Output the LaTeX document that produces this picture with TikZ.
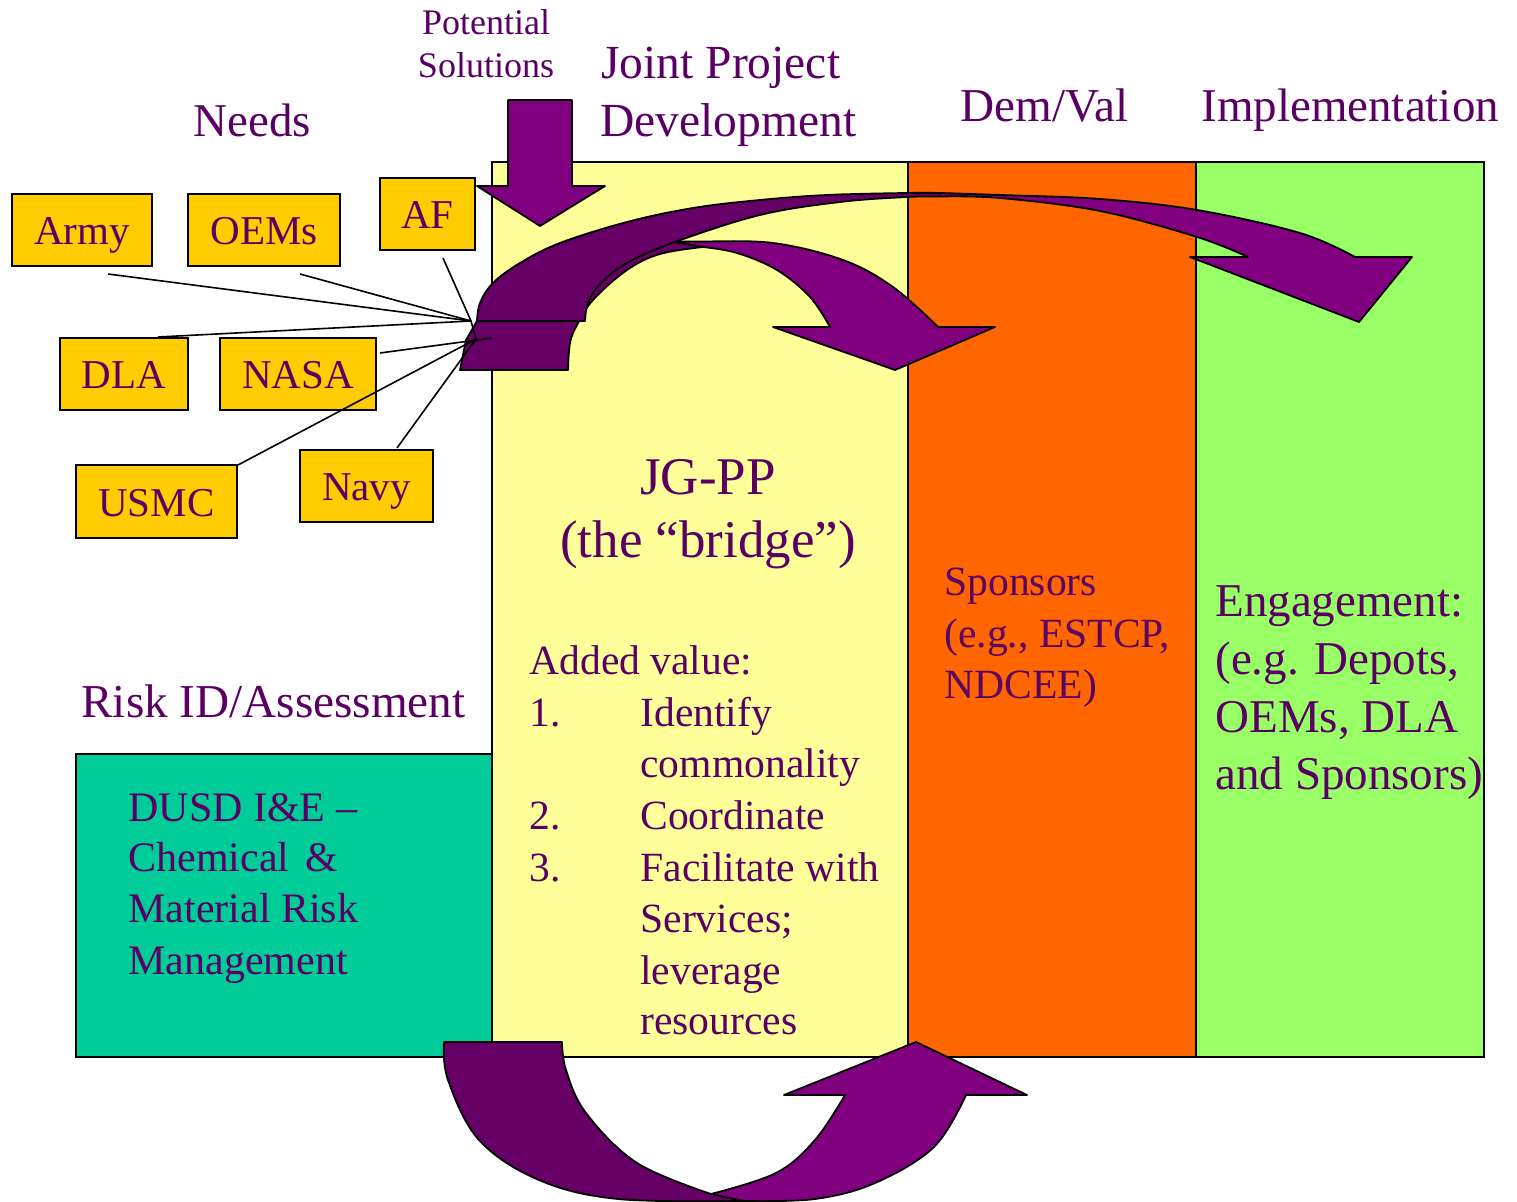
\documentclass[tikz,border=0pt]{standalone}
\usepackage{fontspec}
\setmainfont{Liberation Serif}
\definecolor{txt}{RGB}{90,0,100}
\definecolor{gold}{HTML}{FFCC00}
\definecolor{pyellow}{HTML}{FFFF99}
\definecolor{porange}{HTML}{FF6600}
\definecolor{pgreen}{HTML}{99FF66}
\definecolor{pteal}{HTML}{00CC99}
\definecolor{dkpurple}{HTML}{660066}
\definecolor{ltpurple}{HTML}{800080}
\newcommand{\myfs}[1]{\fontsize{#1pt}{#1pt}\selectfont}
\tikzset{
  panel/.style={draw=black, line width=1.2pt},
  govbox/.style={draw=black, line width=1pt, fill=gold, text=txt, font=\myfs{20.5},
    text height=15pt, text depth=0pt, inner sep=0pt},
  conn/.style={draw=black, line width=0.8pt},
  arrowdark/.style={fill=dkpurple, draw=black, line width=0.9pt, line join=round},
  arrowlight/.style={fill=ltpurple, draw=black, line width=0.9pt, line join=round},
  lbl/.style={anchor=base west, inner sep=0pt, text=txt},
}
\begin{document}
\begin{tikzpicture}[x=0.5pt,y=-0.5pt]
\useasboundingbox (0,0) rectangle (1517,1202);
% panels
\filldraw[panel, fill=pyellow] (492,162) rectangle (908,1057);
\filldraw[panel, fill=porange] (908,162) rectangle (1196,1057);
\filldraw[panel, fill=pgreen] (1196,162) rectangle (1484,1057);
\filldraw[panel, fill=pteal] (76,754) rectangle (492,1057);

% down arrow (potential solutions)
\draw[arrowlight] (508,100) -- (572,100) -- (572,186) -- (605,186) -- (540,226) -- (477,186) -- (508,186) -- cycle;

% curved arrow 1 (to Dem/Val)
\draw[arrowdark] (460,370) -- (466,340) -- (477,321) .. controls (540,290) and (600,250) .. (675,242) -- (703,247)
  -- plot[smooth,tension=0.6] coordinates {(703,247) (660,254) (627,270) (593,300) (577,325) (570,343) (568,370)} -- cycle;
\draw[arrowlight] plot[smooth,tension=0.6] coordinates {(675,242) (700,241.5) (773,243) (843,260) (893,287) (938,327)}
  -- (995,327) -- (895,370) -- (773,327) -- (830,327)
  -- plot[smooth,tension=0.6] coordinates {(830,327) (810,297) (777,270) (737,253) (703,247)} -- cycle;

% curved arrow 2 (to Implementation)
\draw[arrowdark] plot[smooth,tension=0.6] coordinates {(477,321) (480,303) (493,283) (520,263) (560,243) (627,222) (693,208) (760,200) (827,195) (907,193) (940,193)}
  -- (940,196.5)
  -- plot[smooth,tension=0.6] coordinates {(940,196.5) (907,197) (840,202) (760,215) (675,242) (627,263) (600,284) (588,303) (585,321)} -- cycle;
\draw[arrowlight] plot[smooth,tension=0.6] coordinates {(940,193) (1000,195) (1100,199) (1197,210) (1300,233) (1355,257)}
  -- (1412,257) -- (1359,322) -- (1190,257) -- (1248,257)
  -- plot[smooth,tension=0.6] coordinates {(1248,257) (1197,237) (1100,211) (1000,198) (940,196.5)} -- cycle;

% bottom arrow
\draw[arrowdark] (444,1042) -- (562,1042)
  -- plot[smooth,tension=0.6] coordinates {(562,1042) (566,1070) (586,1113) (637,1163) (711,1194)}
  -- (744,1201)
  -- plot[smooth,tension=0.6] coordinates {(744,1201) (618,1199) (539,1180) (479,1140) (448,1080) (444,1042)} -- cycle;
\draw[arrowlight] plot[smooth,tension=0.6] coordinates {(711,1194) (776,1173) (815,1140) (845,1095)}
  -- (784,1095) -- (916,1042) -- (1027,1095) -- (966,1095)
  -- plot[smooth,tension=0.6] coordinates {(966,1095) (934,1147) (875,1183) (815,1199) (744,1201)} -- cycle;

% stakeholder boxes
\node[govbox, minimum width=70pt, minimum height=36pt] (army) at (82,230) {Army};
\node[govbox, minimum width=76pt, minimum height=36pt] (oems) at (264,230) {OEMs};
\node[govbox, minimum width=47.5pt, minimum height=36pt] (af) at (427.5,214) {AF};
\node[govbox, minimum width=64pt, minimum height=36pt] (dla) at (124,374) {DLA};
\node[govbox, minimum width=78pt, minimum height=36pt] (nasa) at (298,374) {NASA};
\node[govbox, minimum width=80.5pt, minimum height=36.5pt] (usmc) at (156.5,501.5) {USMC};
\node[govbox, minimum width=66.5pt, minimum height=36pt] (navy) at (366.5,486) {Navy};

% connector endpoints
\coordinate (hubA) at (471,321);
\coordinate (hubB) at (476,339);
\coordinate (hubN) at (492,338);
\coordinate (armyE) at (108,274);
\coordinate (oemsE) at (300,274);
\coordinate (afE) at (443,258);
\coordinate (dlaE) at (158,337);
\coordinate (nasaE) at (380,353);
\coordinate (usmcE) at (238,465);
\coordinate (navyE) at (397,448);
\draw[conn] (armyE) -- (hubA);
\draw[conn] (oemsE) -- (hubA);
\draw[conn] (dlaE) -- (hubA);
\draw[conn] (afE) -- (hubA) -- (hubB);
\draw[conn] (nasaE) -- (hubN);
\draw[conn] (usmcE) -- (hubB);
\draw[conn] (navyE) -- (hubB);

% headings
\node[lbl, anchor=base, font=\myfs{18}] (pot1) at (486,35) {Potential};
\node[lbl, anchor=base, font=\myfs{18}] (pot2) at (486,78) {Solutions};
\node[lbl, font=\myfs{23.75}] (jp1) at (601,79) {Joint Project};
\node[lbl, font=\myfs{23.75}] (jp2) at (600,137) {Development};
\node[lbl, font=\myfs{23.5}] (needs) at (193,137) {Needs};
\node[lbl, font=\myfs{23.6}] (dem) at (960,122) {Dem/Val};
\node[lbl, font=\myfs{23.5}] (impl) at (1201,122) {Implementation};
\node[lbl, font=\myfs{23.6}] (risk) at (81,718) {Risk ID/Assessment};

% JG-PP panel text
\node[lbl, anchor=base, font=\myfs{26.5}] (jg1) at (708,495) {JG-PP};
\node[lbl, anchor=base, font=\myfs{26.5}] (jg2) at (708,558) {(the “bridge”)};
\node[lbl, font=\myfs{20.8}] (av) at (529,675) {Added value:};
\node[lbl, font=\myfs{20.8}] (n1) at (529,727) {1.};
\node[lbl, font=\myfs{20.8}] (n2) at (529,830) {2.};
\node[lbl, font=\myfs{20.8}] (n3) at (529,882) {3.};
\node[lbl, font=\myfs{20.8}] (i1) at (640,727) {Identify};
\node[lbl, font=\myfs{20.8}] (i2) at (640,778) {commonality};
\node[lbl, font=\myfs{20.8}] (i3) at (640,830) {Coordinate};
\node[lbl, font=\myfs{20.8}] (i4) at (640,882) {Facilitate with};
\node[lbl, font=\myfs{20.8}] (i5) at (640,933) {Services;};
\node[lbl, font=\myfs{20.8}] (i6) at (640,985) {leverage};
\node[lbl, font=\myfs{20.8}] (i7) at (640,1035) {resources};

% Dem/Val panel text
\node[lbl, font=\myfs{20.8}] (sp1) at (944,596) {Sponsors};
\node[lbl, font=\myfs{20.8}] (sp2) at (944,648) {(e.g., ESTCP,};
\node[lbl, font=\myfs{20.8}] (sp3) at (944,699) {NDCEE)};

% Implementation panel text
\node[lbl, font=\myfs{23.5}] (en1) at (1215,617) {Engagement:};
\node[lbl, font=\myfs{23.5}] (en2) at (1215,675) {(e.g. Depots,};
\node[lbl, font=\myfs{23.5}] (en3) at (1215,733) {OEMs, DLA};
\node[lbl, font=\myfs{23.5}] (en4) at (1215,790) {and Sponsors)};

% Risk panel text
\node[lbl, font=\myfs{21}] (du1) at (128,822) {DUSD I\&E –};
\node[lbl, font=\myfs{21}] (du2) at (128,872) {Chemical\hspace{8pt}\&};
\node[lbl, font=\myfs{21}] (du3) at (128,923) {Material Risk};
\node[lbl, font=\myfs{21}] (du4) at (128,975) {Management};
\end{tikzpicture}
\end{document}
